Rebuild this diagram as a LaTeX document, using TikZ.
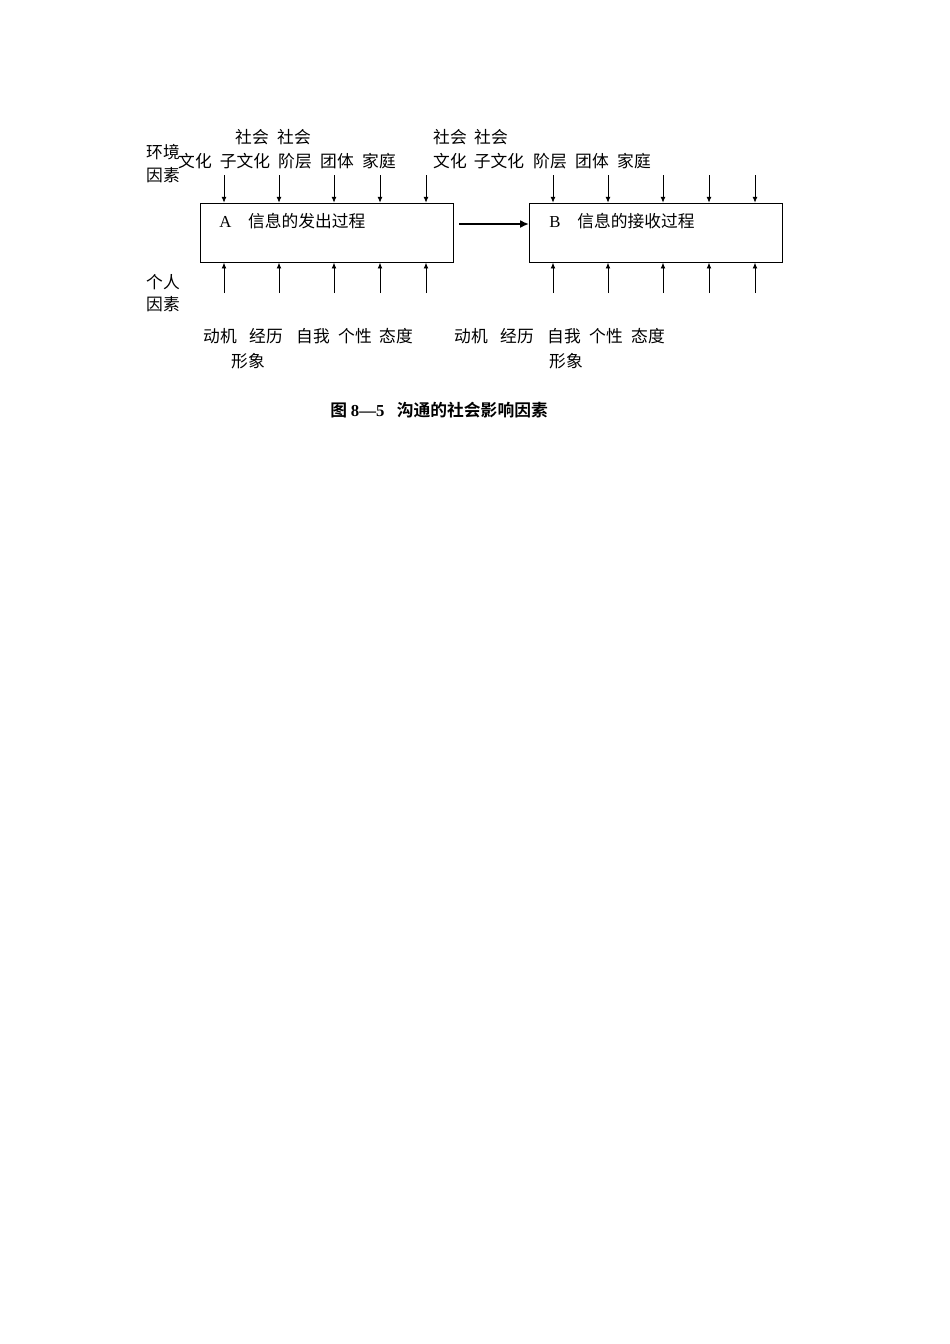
\documentclass[tikz,border=0pt]{standalone}
\usepackage{fontspec}
\setmainfont{Liberation Serif}
\newfontfamily\cjk{Noto Sans CJK SC}[BoldFont=Noto Sans CJK SC Bold]
\usetikzlibrary{arrows.meta,positioning}

\begin{document}
\begin{tikzpicture}[
  x=0.6266pt, y=-0.6266pt,
  proc/.style={rectangle, draw, line width=0.6pt, minimum width=158.5pt, minimum height=37pt, inner sep=0pt},
  word/.style={inner sep=0pt},
  >={Latex[length=3.6pt,width=3pt]},
  font=\fontsize{10.5}{12}\selectfont\cjk
]
\useasboundingbox (0,0) rectangle (950,1344);

% the two processes
\node[proc] (boxA) at (326.5,232.7) {};
\node[proc, right of=boxA, node distance=206.4pt] (boxB) {};
\node[word, anchor=west] (titleA) at (219,221) {{\rmfamily A}\quad 信息的发出过程};
\node[word, anchor=west] (titleB) at (549,221) {{\rmfamily B}\quad 信息的接收过程};

% side labels
\node[word, align=center, font=\fontsize{10.5}{14.4}\selectfont\cjk] (env) at (163,163.5) {环境\\因素};
\node[word, align=center, font=\fontsize{10.5}{13.8}\selectfont\cjk] (pers) at (163,293) {个人\\因素};

% environment factors
\node[word] (socA1) at (252,137) {社会};
\node[word] (socA2) at (294,137) {社会};
\node[word] (culA) at (195,161) {文化};
\node[word] (subA) at (245,161) {子文化};
\node[word] (clsA) at (295,161) {阶层};
\node[word] (grpA) at (337,161) {团体};
\node[word] (famA) at (379,161) {家庭};
\node[word] (socB1) at (450,137) {社会};
\node[word] (socB2) at (491,137) {社会};
\node[word] (culB) at (450,161) {文化};
\node[word] (subB) at (499,161) {子文化};
\node[word] (clsB) at (550,161) {阶层};
\node[word] (grpB) at (592,161) {团体};
\node[word] (famB) at (634,161) {家庭};

% personal factors
\node[word] (motA) at (220,336) {动机};
\node[word] (expA) at (266,336) {经历};
\node[word] (slfA) at (313,336) {自我};
\node[word] (imgA) at (248,361) {形象};
\node[word] (chrA) at (355,336) {个性};
\node[word] (attA) at (396,336) {态度};
\node[word] (motB) at (471,336) {动机};
\node[word] (expB) at (517,336) {经历};
\node[word] (slfB) at (564,336) {自我};
\node[word] (imgB) at (566,361) {形象};
\node[word] (chrB) at (606,336) {个性};
\node[word] (attB) at (648,336) {态度};

% arrows into the boxes
\foreach \x [count=\i] in {224,279,334,380,426} {
  \coordinate (inA\i) at (\x,175);
  \coordinate (upA\i) at (\x,293);
  \draw[->, line width=0.5pt] (inA\i) -- (inA\i |- boxA.north);
  \draw[->, line width=0.5pt] (upA\i) -- (upA\i |- boxA.south);
}
\foreach \x [count=\i] in {553,608,663,709,755} {
  \coordinate (inB\i) at (\x,175);
  \coordinate (upB\i) at (\x,293);
  \draw[->, line width=0.5pt] (inB\i) -- (inB\i |- boxB.north);
  \draw[->, line width=0.5pt] (upB\i) -- (upB\i |- boxB.south);
}

% message flow
\coordinate (send) at (459,224);
\draw[-{Latex[length=5.5pt,width=5pt]}, line width=1.6pt] (send) -- (send -| boxB.west);

\node[word, anchor=west, font=\fontsize{10.5}{12}\selectfont\cjk\bfseries] (caption) at (330,410)
  {图 {\rmfamily 8—5}\hspace{0.75em}沟通的社会影响因素};
\end{tikzpicture}
\end{document}
